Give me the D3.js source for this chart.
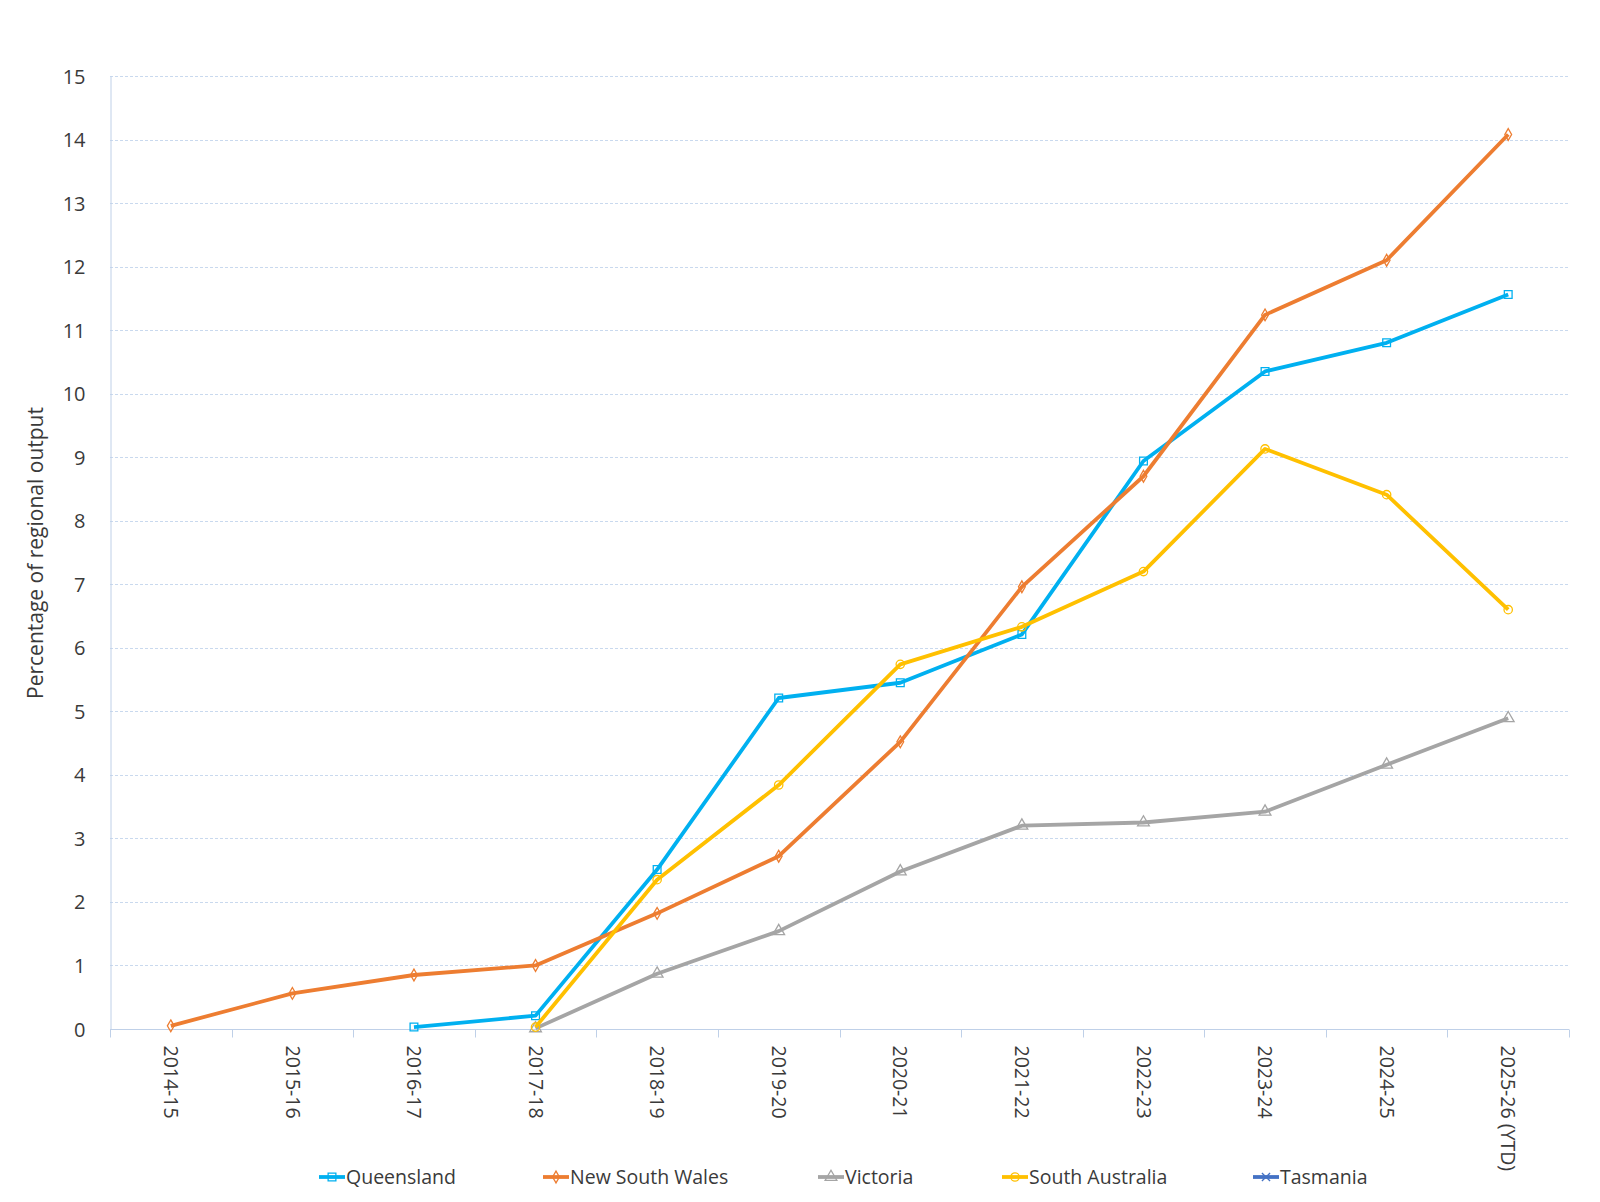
<!DOCTYPE html>
<html>
<head>
<meta http-equiv="Content-Type" content="text/html;charset=utf-8">
<script src="https://d3js.org/d3.v7.min.js"></script>
<style>
  body { margin: 0; background: #fff; }
  text { font-family: "Segoe UI", "Open Sans", "Noto Sans", sans-serif; fill: #3a3a3a; }
</style>
</head>
<body>
<svg id="chart" width="1600" height="1202"></svg>
<script type="text/javascript">

// data
var years = ["2014-15", "2015-16", "2016-17", "2017-18", "2018-19", "2019-20",
             "2020-21", "2021-22", "2022-23", "2023-24", "2024-25", "2025-26 (YTD)"];
var yTicks = [0, 1, 2, 3, 4, 5, 6, 7, 8, 9, 10, 11, 12, 13, 14, 15];

var queensland     = [null, null, 0.03, 0.21, 2.51, 5.21, 5.45, 6.21, 8.94, 10.35, 10.80, 11.56];
var newSouthWales  = [0.05, 0.56, 0.85, 1.00, 1.82, 2.72, 4.52, 6.96, 8.70, 11.24, 12.10, 14.08];
var victoria       = [null, null, null, 0.01, 0.87, 1.54, 2.48, 3.20, 3.25, 3.42, 4.16, 4.89];
var southAustralia = [null, null, null, 0.03, 2.35, 3.84, 5.74, 6.33, 7.20, 9.13, 8.41, 6.60];
var tasmania       = [null, null, null, null, null, null, null, null, null, null, null, null];

var series = [
  { name: "Queensland",      values: queensland,     color: "#00B0F0", symbol: "square" },
  { name: "New South Wales", values: newSouthWales,  color: "#ED7D31", symbol: "diamond" },
  { name: "Victoria",        values: victoria,       color: "#A5A5A5", symbol: "triangle" },
  { name: "South Australia", values: southAustralia, color: "#FFC000", symbol: "circle" },
  { name: "Tasmania",        values: tasmania,       color: "#4472C4", symbol: "cross" }
];

var svg = d3.select("#chart");
var plotLeft = 110, plotRight = 1569, plotTop = 76, plotBottom = 1029;

var x = d3.scaleBand().domain(years).range([plotLeft, plotRight]);
var y = d3.scaleLinear().domain([0, 15]).range([plotBottom, plotTop]);

// gridlines
svg.append("g")
  .selectAll("line")
  .data(yTicks.filter(function (d) { return d > 0; }))
  .join("line")
    .attr("x1", plotLeft).attr("x2", plotRight)
    .attr("y1", function (d) { return Math.round(y(d)) + 0.5; })
    .attr("y2", function (d) { return Math.round(y(d)) + 0.5; })
    .style("stroke", "#c9d9ee")
    .style("stroke-width", 1)
    .style("stroke-dasharray", "3,2");

// y axis
var yAxis = svg.append("g")
  .attr("transform", "translate(" + (plotLeft + 0.5) + ",0)")
  .call(d3.axisLeft(y).tickValues(yTicks).tickSize(0).tickPadding(25));
yAxis.select(".domain").style("stroke", "#bfd0e8");
yAxis.selectAll("text").style("font-size", "20px").attr("dy", "0.35em");

// x axis with ticks between categories
var xAxis = svg.append("g")
  .attr("transform", "translate(0," + (plotBottom + 0.5) + ")");
xAxis.append("line")
  .attr("x1", plotLeft).attr("x2", plotRight)
  .style("stroke", "#bfd0e8");
var bounds = years.map(function (d) { return x(d); }).concat([plotRight]);
xAxis.selectAll("line.tick")
  .data(bounds)
  .join("line")
    .attr("class", "tick")
    .attr("x1", function (d) { return Math.round(d) + 0.5; })
    .attr("x2", function (d) { return Math.round(d) + 0.5; })
    .attr("y1", 0).attr("y2", 8)
    .style("stroke", "#bfd0e8");
xAxis.selectAll("text")
  .data(years)
  .join("text")
    .attr("transform", function (d) {
      return "translate(" + (x(d) + x.bandwidth() / 2) + ",16) rotate(90)";
    })
    .attr("dy", "0.35em")
    .attr("text-anchor", "start")
    .style("font-size", "19.5px")
    .text(function (d) { return d; });

// y axis title
svg.append("text")
  .attr("transform", "translate(36,553) rotate(-90)")
  .attr("text-anchor", "middle")
  .attr("dy", "0.35em")
  .style("font-size", "21px")
  .text("Percentage of regional output");

var cx = function (i) { return x(years[i]) + x.bandwidth() / 2; };

var line = d3.line()
  .defined(function (d) { return d !== null; })
  .x(function (d, i) { return cx(i); })
  .y(function (d) { return y(d); });

var symbols = {
  square: d3.symbolSquare, diamond: d3.symbolDiamond,
  triangle: d3.symbolTriangle, circle: d3.symbolCircle, cross: d3.symbolX
};
var symbolSize = { square: 60, diamond: 40, triangle: 60, circle: 55, cross: 45 };

function marker(g, s) {
  return g.append("path")
    .attr("d", d3.symbol().type(symbols[s.symbol]).size(symbolSize[s.symbol])())
    .style("fill", "none")
    .style("stroke", s.color)
    .style("stroke-width", 1.3);
}

series.forEach(function (s) {
  svg.append("path")
    .datum(s.values)
    .attr("d", line)
    .style("fill", "none")
    .style("stroke", s.color)
    .style("stroke-width", 3.8)
    .style("stroke-linejoin", "round");

  s.values.forEach(function (v, i) {
    if (v === null) return;
    var g = svg.append("g").attr("transform", "translate(" + cx(i) + "," + y(v) + ")");
    marker(g, s);
  });
});

// legend
var legendX = [319, 543, 818, 1002, 1253];
var legend = svg.append("g");
series.forEach(function (s, i) {
  var g = legend.append("g").attr("transform", "translate(" + legendX[i] + ",1177)");
  g.append("line")
    .attr("x1", 0).attr("x2", 26)
    .style("stroke", s.color)
    .style("stroke-width", 3.8);
  var m = g.append("g").attr("transform", "translate(13,0)");
  marker(m, s);
  g.append("text")
    .attr("x", 27)
    .attr("dy", "0.35em")
    .style("font-size", "19.5px")
    .text(s.name);
});

</script>
</body>
</html>
